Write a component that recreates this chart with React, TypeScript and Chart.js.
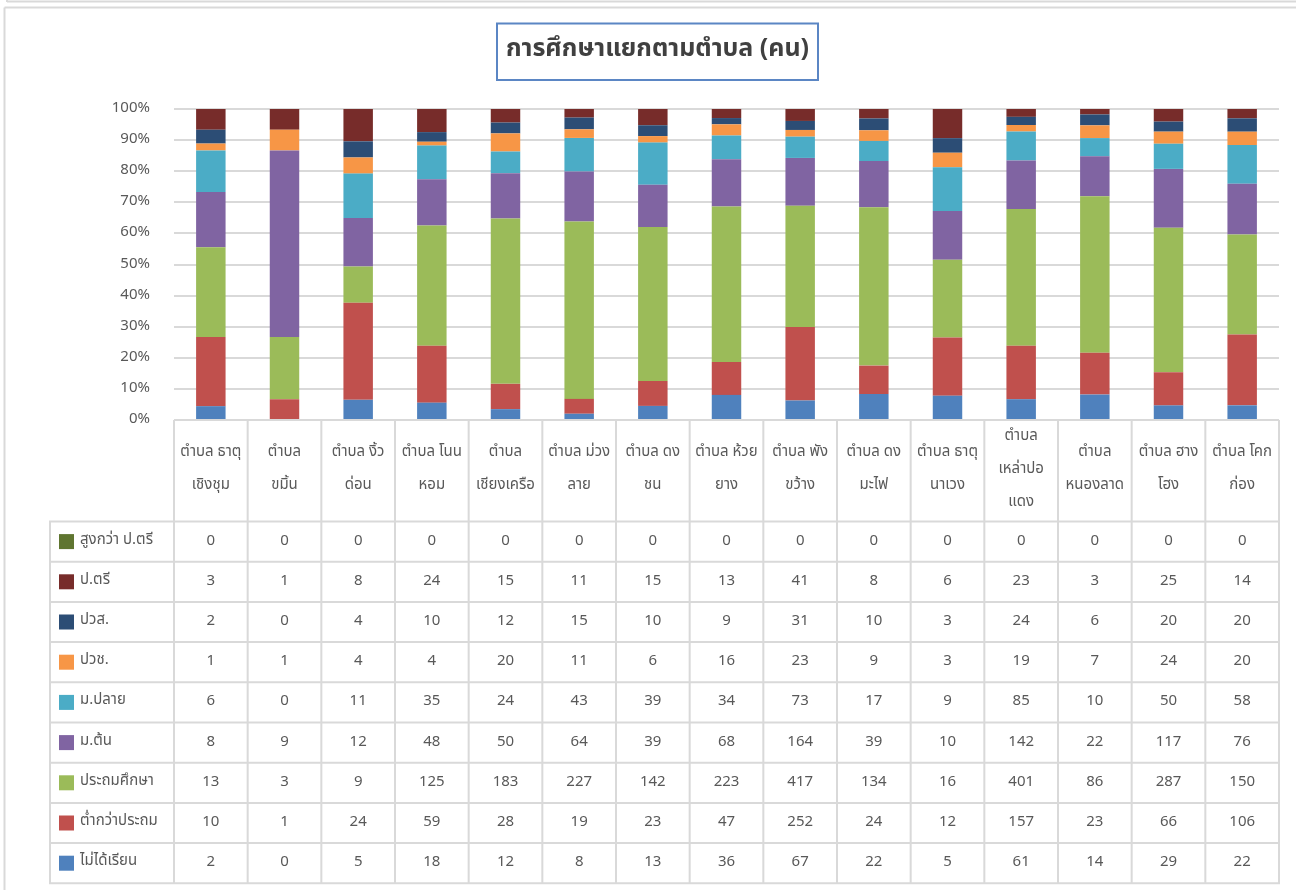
import React, { useEffect, useRef } from "react";
import { Chart, registerables } from "chart.js";

Chart.register(...registerables);

const chartTitle = "การศึกษาแยกตามตำบล (คน)";

const categories: string[][] = [
  ["ตำบล ธาตุ", "เชิงชุม"],
  ["ตำบล", "ขมิ้น"],
  ["ตำบล งิ้ว", "ด่อน"],
  ["ตำบล โนน", "หอม"],
  ["ตำบล", "เชียงเครือ"],
  ["ตำบล ม่วง", "ลาย"],
  ["ตำบล ดง", "ชน"],
  ["ตำบล ห้วย", "ยาง"],
  ["ตำบล พัง", "ขว้าง"],
  ["ตำบล ดง", "มะไฟ"],
  ["ตำบล ธาตุ", "นาเวง"],
  ["ตำบล", "เหล่าปอ", "แดง"],
  ["ตำบล", "หนองลาด"],
  ["ตำบล ฮาง", "โฮง"],
  ["ตำบล โคก", "ก่อง"],
];

const seriesNames = [
  "ไม่ได้เรียน",
  "ต่ำกว่าประถม",
  "ประถมศึกษา",
  "ม.ต้น",
  "ม.ปลาย",
  "ปวช.",
  "ปวส.",
  "ป.ตรี",
  "สูงกว่า ป.ตรี",
];

const notStudied = [2, 0, 5, 18, 12, 8, 13, 36, 67, 22, 5, 61, 14, 29, 22];
const belowPrimary = [10, 1, 24, 59, 28, 19, 23, 47, 252, 24, 12, 157, 23, 66, 106];
const primary = [13, 3, 9, 125, 183, 227, 142, 223, 417, 134, 16, 401, 86, 287, 150];
const lowerSecondary = [8, 9, 12, 48, 50, 64, 39, 68, 164, 39, 10, 142, 22, 117, 76];
const upperSecondary = [6, 0, 11, 35, 24, 43, 39, 34, 73, 17, 9, 85, 10, 50, 58];
const vocational = [1, 1, 4, 4, 20, 11, 6, 16, 23, 9, 3, 19, 7, 24, 20];
const highVocational = [2, 0, 4, 10, 12, 15, 10, 9, 31, 10, 3, 24, 6, 20, 20];
const bachelor = [3, 1, 8, 24, 15, 11, 15, 13, 41, 8, 6, 23, 3, 25, 14];
const aboveBachelor = [0, 0, 0, 0, 0, 0, 0, 0, 0, 0, 0, 0, 0, 0, 0];

const seriesValues = [
  notStudied,
  belowPrimary,
  primary,
  lowerSecondary,
  upperSecondary,
  vocational,
  highVocational,
  bachelor,
  aboveBachelor,
];

const seriesColors = [
  "#4F81BD",
  "#C0504D",
  "#9BBB59",
  "#8064A2",
  "#4BACC6",
  "#F79646",
  "#2C4D75",
  "#772C2A",
  "#5F7530",
];

const FONT = 'Tahoma, "Noto Sans Thai", "Noto Sans", "Open Sans", sans-serif';
const TEXT = "#595959";
const LINE = "#d9d9d9";

const totals = categories.map((_, i) =>
  seriesValues.reduce((s, arr) => s + arr[i], 0)
);

const tablePlugin = {
  id: "tablePlugin",
  beforeDraw(chart: any) {
    const ctx = chart.ctx;
    ctx.save();
    ctx.fillStyle = "#ffffff";
    ctx.fillRect(0, 0, chart.width, chart.height);
    ctx.strokeStyle = LINE;
    ctx.lineWidth = 2;
    ctx.beginPath();
    ctx.moveTo(7, 1.5);
    ctx.lineTo(chart.width, 1.5);
    ctx.moveTo(7, 0);
    ctx.lineTo(7, 2);
    ctx.moveTo(4.5, 7.5);
    ctx.lineTo(chart.width, 7.5);
    ctx.moveTo(4.5, 7.5);
    ctx.lineTo(4.5, chart.height);
    ctx.stroke();
    ctx.restore();
  },
  afterDraw(chart: any) {
    const ctx = chart.ctx;
    const area = chart.chartArea;
    const xs = chart.scales.x;
    const n = categories.length;
    const colW = (area.right - area.left) / n;
    const bound = (i: number) =>
      i < n ? xs.getPixelForValue(i) - colW / 2 : xs.getPixelForValue(n - 1) + colW / 2;
    const headerTop = area.bottom;
    const headerBottom = 521.5;
    const rowH = 40.2;
    const nRows = seriesNames.length;
    const tableBottom = headerBottom + nRows * rowH;
    const legendLeft = 50;

    ctx.save();
    // title box
    ctx.font = `bold 25px ${FONT}`;
    ctx.fillStyle = "#404040";
    ctx.textAlign = "center";
    ctx.textBaseline = "middle";
    const tcx = 657.5;
    const tcy = 51;
    const tw = ctx.measureText(chartTitle).width;
    const bw = Math.max(321, tw + 12);
    ctx.strokeStyle = "#5B86C4";
    ctx.lineWidth = 2;
    ctx.strokeRect(tcx - bw / 2, 23.5, bw, 56.5);
    ctx.fillText(chartTitle, tcx, tcy);

    // table lines
    ctx.strokeStyle = LINE;
    ctx.lineWidth = 2;
    ctx.beginPath();
    for (let i = 0; i <= n; i++) {
      const x = bound(i);
      ctx.moveTo(x, headerTop);
      ctx.lineTo(x, tableBottom);
    }
    ctx.moveTo(legendLeft, headerBottom);
    ctx.lineTo(legendLeft, tableBottom);
    for (let k = 0; k <= nRows; k++) {
      const y = headerBottom + k * rowH;
      ctx.moveTo(legendLeft - 1, y);
      ctx.lineTo(bound(n) + 1, y);
    }
    ctx.stroke();

    // header labels
    ctx.font = `15px ${FONT}`;
    ctx.fillStyle = TEXT;
    ctx.textAlign = "center";
    ctx.textBaseline = "middle";
    const hc = (headerTop + headerBottom) / 2 - 1;
    const lh = 33;
    categories.forEach((lines, i) => {
      const cx = xs.getPixelForValue(i);
      const y0 = hc - ((lines.length - 1) * lh) / 2;
      lines.forEach((t, j) => ctx.fillText(t, cx, y0 + j * lh));
    });

    // rows (top row = last series)
    for (let k = 0; k < nRows; k++) {
      const s = nRows - 1 - k;
      const cy = headerBottom + (k + 0.5) * rowH;
      ctx.fillStyle = seriesColors[s];
      ctx.fillRect(59, cy - 7.5, 15, 15);
      ctx.fillStyle = TEXT;
      ctx.textAlign = "left";
      ctx.fillText(seriesNames[s], 80, cy - 1);
      ctx.textAlign = "center";
      seriesValues[s].forEach((v, i) => {
        ctx.fillText(String(v), xs.getPixelForValue(i), cy);
      });
    }
    ctx.restore();
  },
};

export default function App() {
  const canvasRef = useRef<HTMLCanvasElement | null>(null);

  useEffect(() => {
    const canvas = canvasRef.current;
    if (!canvas) return;
    const chart = new Chart(canvas, {
      type: "bar",
      data: {
        labels: categories,
        datasets: seriesNames.map((name, s) => ({
          label: name,
          data: seriesValues[s].map((v, i) => (totals[i] ? (v / totals[i]) * 100 : 0)),
          backgroundColor: seriesColors[s],
          borderWidth: 0,
          barPercentage: 0.4,
          categoryPercentage: 1,
        })),
      },
      options: {
        responsive: false,
        animation: false,
        devicePixelRatio: 1,
        layout: { padding: { left: 0, top: 109, right: 17, bottom: 470 } },
        plugins: {
          legend: { display: false },
          title: { display: false },
          tooltip: { enabled: false },
        },
        scales: {
          x: {
            stacked: true,
            display: false,
          },
          y: {
            stacked: true,
            min: 0,
            max: 100,
            afterFit: (scale: any) => {
              scale.width = 174;
            },
            ticks: {
              stepSize: 10,
              padding: 24,
              color: TEXT,
              font: { family: FONT, size: 15 },
              callback: (v: any) => `${v}%`,
            },
            grid: { color: LINE, lineWidth: 2, drawTicks: false },
            border: { display: false },
          },
        },
      },
      plugins: [tablePlugin],
    });
    return () => chart.destroy();
  }, []);

  return (
    <div
      style={{
        position: "fixed",
        left: 0,
        top: 0,
        width: 1296,
        height: 890,
        background: "#fff",
      }}
    >
      <canvas ref={canvasRef} width={1296} height={890} style={{ display: "block" }} />
    </div>
  );
}
